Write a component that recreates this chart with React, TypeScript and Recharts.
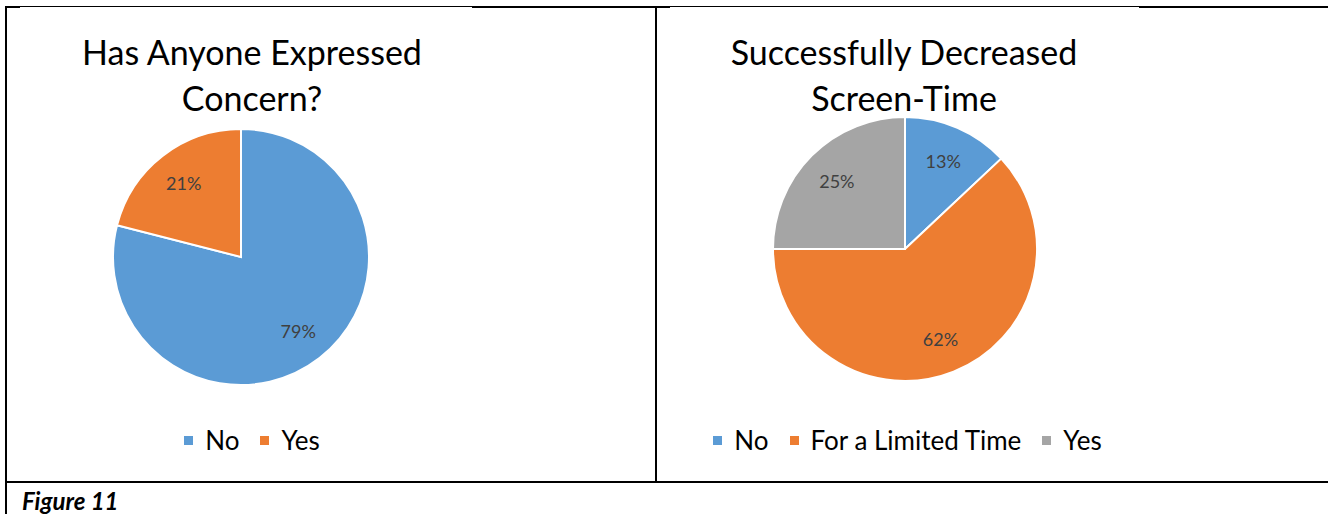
import React from "react";
import { PieChart, Pie, Cell, Legend } from "recharts";

const concernCategories = ["No", "Yes"];
const concernValues = [79, 21];
const screenCategories = ["No", "For a Limited Time", "Yes"];
const screenValues = [13, 62, 25];
const palette = ["#5B9BD5", "#ED7D31", "#A5A5A5"];
const caption = "Figure 11";
const titleLeft = ["Has Anyone Expressed", "Concern?"];
const titleRight = ["Successfully Decreased", "Screen-Time"];

const FONT = "Lato, 'Open Sans', sans-serif";
const RAD = Math.PI / 180;

const concernData = concernCategories.map((name, i) => ({ name, value: concernValues[i] }));
const screenData = screenCategories.map((name, i) => ({ name, value: screenValues[i] }));

const renderLabel = (p: any) => {
  const r = p.outerRadius * 0.73;
  const x = p.cx + r * Math.cos(-p.midAngle * RAD);
  const y = p.cy + r * Math.sin(-p.midAngle * RAD);
  return (
    <text x={x} y={y} fill="#404040" fontSize={18} fontFamily={FONT} textAnchor="middle" dominantBaseline="central">
      {`${p.value}%`}
    </text>
  );
};

const LegendContent = ({ names }: { names: string[] }) => (
  <div style={{ display: "flex", justifyContent: "center", alignItems: "center", fontFamily: FONT, fontSize: 26, lineHeight: "30px", color: "#000" }}>
    {names.map((n, i) => (
      <div key={n} style={{ display: "flex", alignItems: "center", marginRight: i < names.length - 1 ? 21 : 0 }}>
        <span style={{ width: 9, height: 9, background: palette[i], display: "inline-block", marginRight: 12 }} />
        <span>{n}</span>
      </div>
    ))}
  </div>
);

const Title = ({ lines, center }: { lines: string[]; center: number }) => (
  <div style={{ position: "absolute", left: center - 250, top: 29, width: 500, textAlign: "center", fontFamily: FONT, fontSize: 34, lineHeight: "46px", color: "#000" }}>
    {lines.map((l) => (
      <div key={l}>{l}</div>
    ))}
  </div>
);

const line = (left: number, top: number, width: number, height: number) => (
  <div style={{ position: "absolute", left, top, width, height, background: "#000" }} />
);

export default function App() {
  return (
    <div style={{ position: "absolute", left: 0, top: 0, width: 1328, height: 514, background: "#fff", overflow: "hidden" }}>
      {line(5, 6, 1323, 1)}
      {line(5, 6, 15, 2)}
      {line(472, 6, 198, 2)}
      {line(1139, 6, 189, 2)}
      {line(5, 6, 2, 508)}
      {line(655, 6, 2, 476)}
      {line(5, 481, 1323, 2)}

      <div style={{ position: "absolute", left: 7, top: 8 }}>
        <PieChart width={648} height={473}>
          <Pie
            data={concernData}
            dataKey="value"
            nameKey="name"
            cx={229}
            cy={244}
            outerRadius={128}
            startAngle={90}
            endAngle={-270}
            stroke="#fff"
            strokeWidth={2}
            label={renderLabel}
            labelLine={false}
            isAnimationActive={false}
          >
            {concernData.map((d, i) => (
              <Cell key={d.name} fill={palette[i]} />
            ))}
          </Pie>
          <Legend
            content={() => <LegendContent names={concernCategories} />}
            wrapperStyle={{ position: "absolute", left: 0, top: 417, width: 490 }}
          />
        </PieChart>
      </div>

      <div style={{ position: "absolute", left: 657, top: 8 }}>
        <PieChart width={648} height={473}>
          <Pie
            data={screenData}
            dataKey="value"
            nameKey="name"
            cx={243}
            cy={236}
            outerRadius={132}
            startAngle={90}
            endAngle={-270}
            stroke="#fff"
            strokeWidth={2}
            label={renderLabel}
            labelLine={false}
            isAnimationActive={false}
          >
            {screenData.map((d, i) => (
              <Cell key={d.name} fill={palette[i]} />
            ))}
          </Pie>
          <Legend
            content={() => <LegendContent names={screenCategories} />}
            wrapperStyle={{ position: "absolute", left: 0, top: 417, width: 501 }}
          />
        </PieChart>
      </div>

      <Title lines={titleLeft} center={252} />
      <Title lines={titleRight} center={904} />

      <div style={{ position: "absolute", left: 22, top: 486, fontFamily: FONT, fontSize: 24, fontWeight: 700, fontStyle: "italic", color: "#000" }}>
        {caption}
      </div>
    </div>
  );
}
